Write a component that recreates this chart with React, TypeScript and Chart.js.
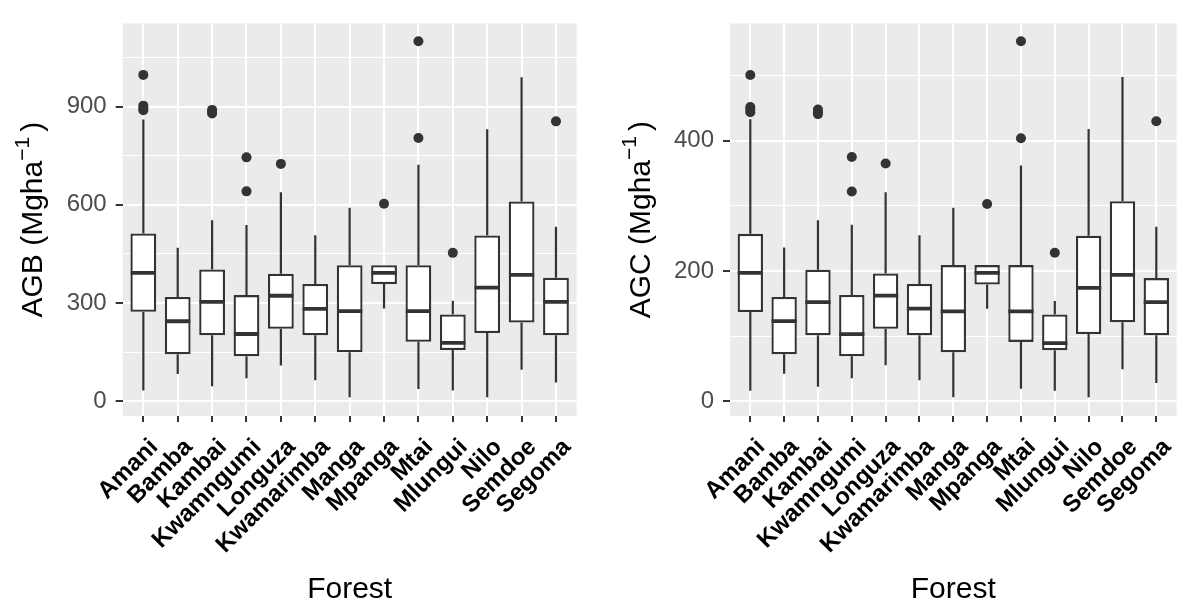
import React, { useEffect, useRef } from 'react';
import { Chart, registerables } from 'chart.js';

Chart.register(...registerables);

// ---------- data ----------
const forests = ['Amani', 'Bamba', 'Kambai', 'Kwamngumi', 'Longuza', 'Kwamarimba', 'Manga', 'Mpanga', 'Mtai', 'Mlungui', 'Nilo', 'Semdoe', 'Segoma'];

const agbLow = [32, 83, 45, 70, 109, 64, 12, 283, 37, 32, 12, 96, 57];
const agbQ1 = [273, 143, 201, 137, 221, 201, 149, 358, 181, 156, 208, 240, 201];
const agbMedian = [392, 244, 303, 205, 322, 282, 275, 392, 275, 178, 347, 386, 303];
const agbQ3 = [512, 318, 402, 324, 389, 358, 415, 415, 415, 265, 506, 610, 377];
const agbHigh = [861, 469, 553, 538, 638, 507, 591, 415, 722, 307, 831, 990, 533];
const agbOutliers = [[997, 903, 896, 889], [], [890, 884, 879], [745, 641], [725], [], [], [603], [1100, 804], [453], [], [], [855]];

const agcLow = [16, 42, 22, 35, 55, 32, 6, 142, 19, 16, 6, 49, 28];
const agcQ1 = [137, 72, 101, 69, 111, 101, 75, 179, 91, 78, 103, 121, 101];
const agcMedian = [197, 123, 152, 103, 162, 142, 138, 197, 138, 89, 174, 194, 152];
const agcQ3 = [257, 160, 202, 163, 196, 180, 209, 209, 209, 133, 254, 307, 189];
const agcHigh = [433, 236, 278, 271, 321, 255, 297, 209, 362, 154, 418, 498, 268];
const agcOutliers = [[501, 452, 448, 444], [], [448, 444, 441], [375, 322], [365], [], [], [303], [553, 404], [228], [], [], [430]];

const agbTicks = [0, 150, 300, 450, 600, 750, 900, 1050];
const agbLabelled = [0, 300, 600, 900];
const agbRange = [-45.6, 1154.4];

const agcTicks = [0, 100, 200, 300, 400, 500];
const agcLabelled = [0, 200, 400];
const agcRange = [-22.9, 580.4];

const xRange = [-0.6, 12.6];

// ---------- styling ----------
const FAMILY = '"Liberation Sans", Arial, Helvetica, sans-serif';
const DARK = '#333333';

type Spec = {
  yTitle: string;
  low: number[]; q1: number[]; median: number[]; q3: number[]; high: number[];
  outliers: number[][];
  ticks: number[]; labelled: number[]; range: number[];
  yAxisWidth: number; padRight: number;
};

function makePanelPlugin(yTitle: string) {
  return {
    id: 'ggpanel',
    beforeDraw(chart: any) {
      const { ctx, chartArea: a } = chart;
      ctx.save();
      ctx.fillStyle = '#EBEBEB';
      ctx.fillRect(a.left, a.top, a.right - a.left, a.bottom - a.top);
      ctx.restore();
    },
    afterDraw(chart: any) {
      const { ctx, chartArea: a } = chart;
      const xs = chart.scales.x;
      // rotated bold category labels
      const size = 24;
      const capH = size * 0.716;
      ctx.save();
      ctx.font = `bold ${size}px ${FAMILY}`;
      ctx.fillStyle = '#000000';
      ctx.textAlign = 'right';
      ctx.textBaseline = 'alphabetic';
      forests.forEach((name, i) => {
        const px = xs.getPixelForValue(i);
        ctx.save();
        ctx.translate(px + 3.5, a.bottom + 20);
        ctx.rotate(-Math.PI / 4);
        ctx.fillText(name, 0, capH);
        ctx.restore();
      });
      ctx.restore();

      // y-axis title with superscript
      const big = 30;
      const small = 21;
      const main = `${yTitle} (Mgha`;
      const sup = '\u22121';
      const close = ')';
      ctx.save();
      ctx.translate(a.left - 91, (a.top + a.bottom) / 2);
      ctx.rotate(-Math.PI / 2);
      ctx.fillStyle = '#000000';
      ctx.textAlign = 'left';
      ctx.textBaseline = 'alphabetic';
      ctx.font = `${big}px ${FAMILY}`;
      const w1 = ctx.measureText(main).width;
      const w3 = ctx.measureText(close).width;
      ctx.font = `${small}px ${FAMILY}`;
      const w2 = ctx.measureText(sup).width;
      const gap = 5;
      const total = w1 + w2 + gap + w3;
      const base = (big * 0.716) / 2;
      let x = -total / 2;
      ctx.font = `${big}px ${FAMILY}`;
      ctx.fillText(main, x, base);
      x += w1;
      ctx.font = `${small}px ${FAMILY}`;
      ctx.fillText(sup, x, base - big * 0.45);
      x += w2 + gap;
      ctx.font = `${big}px ${FAMILY}`;
      ctx.fillText(close, x, base);
      ctx.restore();
    },
  };
}

function buildConfig(spec: Spec): any {
  const medianData = forests.map((_, i) => ({ x: i, y: spec.median[i] }));
  const boxData = forests.map((_, i) => ({ x: i, y: [spec.q1[i], spec.q3[i]] }));
  const whiskerData: any[] = [];
  forests.forEach((_, i) => {
    whiskerData.push({ x: i, y: spec.low[i] }, { x: i, y: spec.q1[i] }, { x: i, y: null });
    whiskerData.push({ x: i, y: spec.q3[i] }, { x: i, y: spec.high[i] }, { x: i, y: null });
  });
  const outlierData: any[] = [];
  spec.outliers.forEach((vals, i) => vals.forEach((v) => outlierData.push({ x: i, y: v })));

  const isMajor = (v: number) => spec.labelled.includes(v);

  return {
    type: 'bar',
    data: {
      datasets: [
        {
          type: 'scatter', label: 'median', data: medianData,
          pointStyle: 'line', pointRadius: 12.6, pointHoverRadius: 12.6,
          pointBorderColor: DARK, pointBorderWidth: 3.8, pointBackgroundColor: DARK,
          borderColor: DARK, borderWidth: 3.8, showLine: false,
        },
        {
          type: 'bar', label: 'box', data: boxData,
          backgroundColor: '#FFFFFF', borderColor: DARK, borderWidth: 2.3,
          borderSkipped: false, barPercentage: 0.75, categoryPercentage: 1, grouped: false,
        },
        {
          type: 'line', label: 'whisker', data: whiskerData,
          borderColor: DARK, borderWidth: 2.2, pointRadius: 0, spanGaps: false, fill: false, tension: 0,
        },
        {
          type: 'scatter', label: 'outlier', data: outlierData,
          pointStyle: 'circle', pointRadius: 5, pointHoverRadius: 5,
          pointBackgroundColor: DARK, pointBorderColor: DARK, pointBorderWidth: 0,
          backgroundColor: DARK, borderColor: DARK,
        },
      ],
    },
    options: {
      responsive: false,
      animation: false,
      devicePixelRatio: 1,
      events: [],
      layout: { padding: { left: 0, top: 13.3, right: spec.padRight, bottom: 0 } },
      plugins: { legend: { display: false }, tooltip: { enabled: false }, title: { display: false } },
      scales: {
        x: {
          type: 'linear',
          min: xRange[0],
          max: xRange[1],
          offset: false,
          afterBuildTicks: (s: any) => { s.ticks = forests.map((_, i) => ({ value: i })); },
          afterFit: (s: any) => { s.height = 605 - 416; },
          ticks: { display: false, autoSkip: false },
          grid: { color: '#FFFFFF', lineWidth: 2, tickColor: DARK, tickWidth: 2, tickLength: 6, offset: false, drawTicks: true },
          border: { display: false },
          title: {
            display: true, text: 'Forest', color: '#000000',
            font: { family: FAMILY, size: 30, lineHeight: 1 }, padding: { top: 0, bottom: 0 },
          },
        },
        y: {
          type: 'linear',
          min: spec.range[0],
          max: spec.range[1],
          afterBuildTicks: (s: any) => { s.ticks = spec.ticks.map((v) => ({ value: v })); },
          afterFit: (s: any) => { s.width = spec.yAxisWidth; },
          ticks: {
            autoSkip: false,
            color: '#4D4D4D',
            font: { family: FAMILY, size: 24 },
            padding: 9,
            callback: (v: number) => (isMajor(v) ? String(v) : ''),
          },
          grid: {
            color: '#FFFFFF',
            lineWidth: (c: any) => (c.tick && isMajor(c.tick.value) ? 2 : 1),
            tickColor: (c: any) => (c.tick && isMajor(c.tick.value) ? DARK : 'rgba(0,0,0,0)'),
            tickWidth: 2,
            tickLength: 7,
            drawTicks: true,
          },
          border: { display: false },
          title: { display: false },
        },
      },
    },
    plugins: [makePanelPlugin(spec.yTitle)],
  };
}

const agbSpec: Spec = {
  yTitle: 'AGB', low: agbLow, q1: agbQ1, median: agbMedian, q3: agbQ3, high: agbHigh,
  outliers: agbOutliers, ticks: agbTicks, labelled: agbLabelled, range: agbRange,
  yAxisWidth: 122.7, padRight: 10.1,
};

const agcSpec: Spec = {
  yTitle: 'AGC', low: agcLow, q1: agcQ1, median: agcMedian, q3: agcQ3, high: agcHigh,
  outliers: agcOutliers, ticks: agcTicks, labelled: agcLabelled, range: agcRange,
  yAxisWidth: 137, padRight: 2.8,
};

function BoxPanel({ spec, left, width }: { spec: Spec; left: number; width: number }) {
  const ref = useRef<HTMLCanvasElement | null>(null);
  useEffect(() => {
    if (!ref.current) return;
    const chart = new Chart(ref.current, buildConfig(spec));
    return () => chart.destroy();
  }, [spec]);
  return (
    <canvas
      ref={ref}
      width={width}
      height={605}
      style={{ position: 'absolute', left, top: 0, width, height: 605, display: 'block' }}
    />
  );
}

export default function App() {
  return (
    <div style={{ position: 'fixed', left: 0, top: 0, width: 1187, height: 605, overflow: 'hidden', background: '#FFFFFF' }}>
      <BoxPanel spec={agbSpec} left={0} width={593} />
      <BoxPanel spec={agcSpec} left={593} width={600} />
    </div>
  );
}
